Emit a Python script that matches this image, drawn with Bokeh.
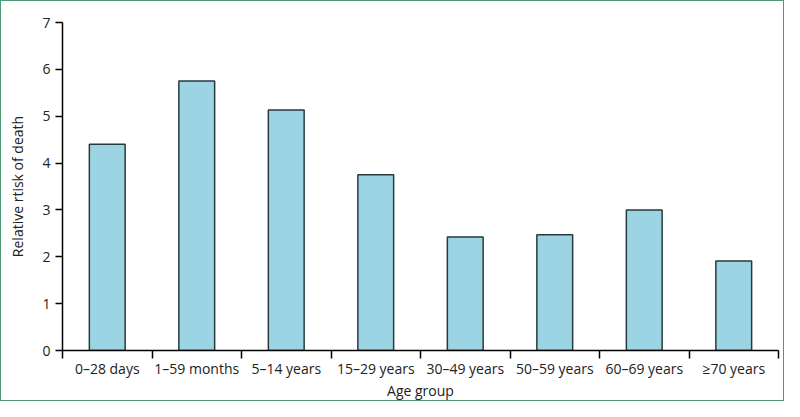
from bokeh.plotting import figure
from bokeh.models import Range1d, FixedTicker, ColumnDataSource
from bokeh.embed import file_html
from bokeh.resources import INLINE

categories = ["0–28 days", "1–59 months", "5–14 years", "15–29 years",
              "30–49 years", "50–59 years", "60–69 years", "≥70 years"]
relative_risk = [4.40, 5.75, 5.13, 3.75, 2.42, 2.47, 3.00, 1.91]
y_ticks = [0, 1, 2, 3, 4, 5, 6, 7]

n = len(categories)
centers = [i + 0.5 for i in range(n)]
boundaries = [float(i) for i in range(n + 1)]
source = ColumnDataSource(dict(x=centers, top=relative_risk, label=categories))

FONT = "Open Sans"
TXT = "#222222"

p = figure(width=784, height=401, output_backend="svg", toolbar_location=None,
           x_range=Range1d(0, n), y_range=Range1d(0, max(y_ticks)),
           min_border_left=61, min_border_right=7, min_border_top=21,
           min_border_bottom=46, background_fill_color="white",
           border_fill_color="white")
p.outline_line_color = None
p.grid.visible = False

p.vbar(x="x", top="top", width=0.4, bottom=0, source=source,
       fill_color="#9cd4e4", line_color="#263a40", line_width=1.5)

# x axis: ticks at category boundaries, labels at centers
xa = p.xaxis[0]
xa.ticker = FixedTicker(ticks=centers, minor_ticks=boundaries)
xa.major_label_overrides = {c: lab for c, lab in zip(centers, categories)}
xa.major_tick_out = 0
xa.major_tick_in = 0
xa.minor_tick_out = 8
xa.minor_tick_in = 0
xa.minor_tick_line_color = "black"
xa.minor_tick_line_width = 1.5
xa.axis_line_color = "black"
xa.axis_line_width = 1.5
xa.major_label_standoff = 0
xa.major_label_text_font = FONT
xa.major_label_text_font_size = "14px"
xa.major_label_text_color = TXT
xa.axis_label = "Age group"
xa.axis_label_text_font = FONT
xa.axis_label_text_font_size = "14px"
xa.axis_label_text_font_style = "normal"
xa.axis_label_text_color = TXT
xa.axis_label_standoff = 0

ya = p.yaxis[0]
ya.ticker = FixedTicker(ticks=y_ticks, minor_ticks=[])
ya.major_tick_out = 7
ya.major_tick_in = 0
ya.major_tick_line_color = "black"
ya.major_tick_line_width = 1.5
ya.axis_line_color = "black"
ya.axis_line_width = 1.5
ya.major_label_standoff = 5
ya.major_label_text_font = FONT
ya.major_label_text_font_size = "14px"
ya.major_label_text_color = TXT
ya.axis_label = "Relative rtisk of death"
ya.axis_label_text_font = FONT
ya.axis_label_text_font_size = "14px"
ya.axis_label_text_font_style = "normal"
ya.axis_label_text_color = TXT
ya.axis_label_standoff = 12

p.styles = {"border": "1px solid #4f9a74", "box-sizing": "border-box"}

open("out.html", "w").write(file_html(p, INLINE))
